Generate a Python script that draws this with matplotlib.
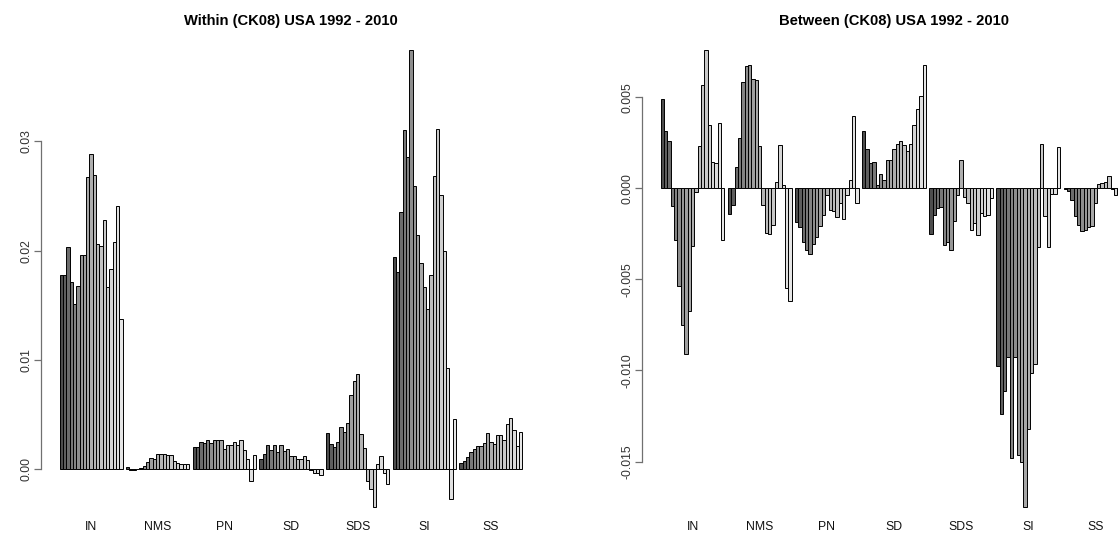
import numpy as np
import matplotlib
matplotlib.use("Agg")
import matplotlib.pyplot as plt

plt.rcParams['font.family'] = ['Liberation Sans', 'DejaVu Sans']

categories = ["IN", "NMS", "PN", "SD", "SDS", "SI", "SS"]
years = list(range(1992, 2011))

# Within (CK08) USA 1992-2010
within_IN = [0.0178, 0.0178, 0.0203, 0.0171, 0.0151, 0.0168, 0.0196, 0.0196, 0.0267, 0.0288,
             0.0269, 0.0206, 0.0204, 0.0228, 0.0167, 0.0183, 0.0208, 0.0241, 0.0137]
within_NMS = [0.00018, -0.00005, -0.00005, 0.00002, 0.0001, 0.0003, 0.0007, 0.001, 0.00095, 0.0014,
              0.0014, 0.0014, 0.0013, 0.0013, 0.0008, 0.00055, 0.00045, 0.00045, 0.00045]
within_PN = [0.00205, 0.00205, 0.00252, 0.00242, 0.00264, 0.00242, 0.00264, 0.00264, 0.00267, 0.0019,
             0.00224, 0.00224, 0.00249, 0.00218, 0.0027, 0.0018, 0.00096, -0.00106, 0.00127]
within_SD = [0.00096, 0.00143, 0.00221, 0.00174, 0.00221, 0.00155, 0.00221, 0.00168, 0.00187, 0.00118,
             0.00121, 0.00093, 0.00093, 0.00121, 0.00081, -0.00003, -0.00031, -0.00031, -0.00053]
within_SDS = [0.00336, 0.00227, 0.00205, 0.00252, 0.00386, 0.00339, 0.0042, 0.00678, 0.00811, 0.00867,
              0.00321, 0.00193, -0.00106, -0.00183, -0.00345, 0.00053, 0.00124, -0.00037, -0.00131]
within_SI = [0.0194, 0.0180, 0.02355, 0.0310, 0.0286, 0.0383, 0.0259, 0.0214, 0.0189, 0.0167,
             0.0147, 0.0178, 0.0268, 0.0311, 0.0251, 0.0200, 0.0093, -0.0027, 0.00457]
within_SS = [0.0006, 0.0008, 0.0011, 0.00155, 0.0019, 0.0021, 0.0021, 0.0024, 0.0033, 0.0025,
             0.0023, 0.0031, 0.0031, 0.0027, 0.0041, 0.0047, 0.0036, 0.0021, 0.0034]

# Between (CK08) USA 1992-2010
between_IN = [0.00493, 0.00313, 0.00259, -0.00099, -0.00281, -0.00538, -0.0075, -0.00909, -0.00671, -0.00319,
              -0.00019, 0.00231, 0.00566, 0.00757, 0.00349, 0.00144, 0.00137, 0.0036, -0.00285]
between_NMS = [-0.00143, -0.0009, 0.00118, 0.00276, 0.00583, 0.0067, 0.00676, 0.00601, 0.00593, 0.0023,
               -0.00093, -0.00247, -0.00252, -0.00203, 0.00034, 0.00237, 0.00017, -0.00549, -0.00619]
between_PN = [-0.00184, -0.00215, -0.00296, -0.00336, -0.00358, -0.00307, -0.0027, -0.00208, -0.00147, -0.00037,
              -0.0012, -0.00123, -0.0016, -0.00083, -0.00168, -0.00034, 0.00045, 0.00396, -0.00082]
between_SD = [0.00313, 0.00217, 0.00137, 0.00147, 0.0002, 0.00077, 0.00045, 0.00154, 0.00154, 0.00214,
              0.00241, 0.0026, 0.00239, 0.00207, 0.00241, 0.00346, 0.00436, 0.00505, 0.00676]
between_SDS = [-0.00252, -0.00145, -0.00106, -0.00101, -0.00311, -0.00293, -0.00337, -0.00177, -0.00037, 0.00156,
               -0.0005, -0.00082, -0.00227, -0.0019, -0.00254, -0.00137, -0.00154, -0.00148, -0.00055]
between_SI = [-0.00977, -0.01241, -0.01114, -0.00928, -0.01482, -0.00928, -0.01463, -0.01504, -0.0175, -0.01323,
              -0.01014, -0.00963, -0.00322, 0.00246, -0.00153, -0.0032, -0.00033, -0.00033, 0.00229]
between_SS = [-0.00005, -0.00015, -0.00065, -0.00153, -0.00202, -0.00236, -0.00228, -0.00215, -0.00206, -0.0008,
              0.00022, 0.00031, 0.00037, 0.0007, -0.00002, -0.00037, -0.0003, -0.0003, -0.0002]

within = [within_IN, within_NMS, within_PN, within_SD, within_SDS, within_SI, within_SS]
between = [between_IN, between_NMS, between_PN, between_SD, between_SDS, between_SI, between_SS]

within_ticks = [0.00, 0.01, 0.02, 0.03]
within_ticklabels = ["0.00", "0.01", "0.02", "0.03"]
between_ticks = [-0.015, -0.010, -0.005, 0.000, 0.005]
between_ticklabels = ["-0.015", "-0.010", "-0.005", "0.000", "0.005"]

W, H = 1118, 535
fig = plt.figure(figsize=(W / 100, H / 100), dpi=100)

nyr = len(years)
lv = np.linspace(0.3 ** 2.2, 0.9 ** 2.2, nyr) ** (1 / 2.2)
colors = [(v, v, v) for v in lv]

def panel(x0, width, data, ticks, ticklabels, title):
    top, bottom = 32.2, 525.3
    ax = fig.add_axes([x0 / W, (H - bottom) / H, width / W, (bottom - top) / H])
    ng = len(data)
    for g, vals in enumerate(data):
        xs = [g * (nyr + 1) + 1.5 + i for i in range(nyr)]
        ax.bar(xs, vals, width=1.0, color=colors, edgecolor='black', linewidth=0.7)
    xmax = ng * (nyr + 1)
    ext = 0.04 * (xmax - 1)
    ax.set_xlim(1 - ext, xmax + ext)
    allv = np.concatenate([np.asarray(v) for v in data] + [[0.0]])
    lo, hi = allv.min(), allv.max()
    e = 0.04 * (hi - lo)
    ax.set_ylim(lo - e, hi + e)
    centers = [g * (nyr + 1) + 1 + nyr / 2 for g in range(ng)]
    ax.set_xticks(centers)
    ax.set_xticklabels(categories, fontsize=8.8, color='#111111')
    ax.tick_params(axis='x', length=0, pad=-3)
    ax.set_yticks(ticks)
    ax.set_yticklabels(ticklabels, fontsize=8.8, color='#333333', rotation=90, va='center')
    ax.tick_params(axis='y', length=5, width=0.9, color='#707070', pad=1.0)
    for s in ['top', 'right', 'bottom']:
        ax.spines[s].set_visible(False)
    ax.spines['left'].set_bounds(min(ticks), max(ticks))
    ax.spines['left'].set_color('#707070')
    ax.spines['left'].set_linewidth(0.9)
    ax.set_facecolor('none')
    ax.set_title(title, fontsize=10.6, fontweight='bold', pad=5)
    return ax

panel(41, 500, within, within_ticks, within_ticklabels, "Within (CK08) USA 1992 - 2010")
panel(642, 504, between, between_ticks, between_ticklabels, "Between (CK08) USA 1992 - 2010")

fig.savefig("out.png", dpi=100)
